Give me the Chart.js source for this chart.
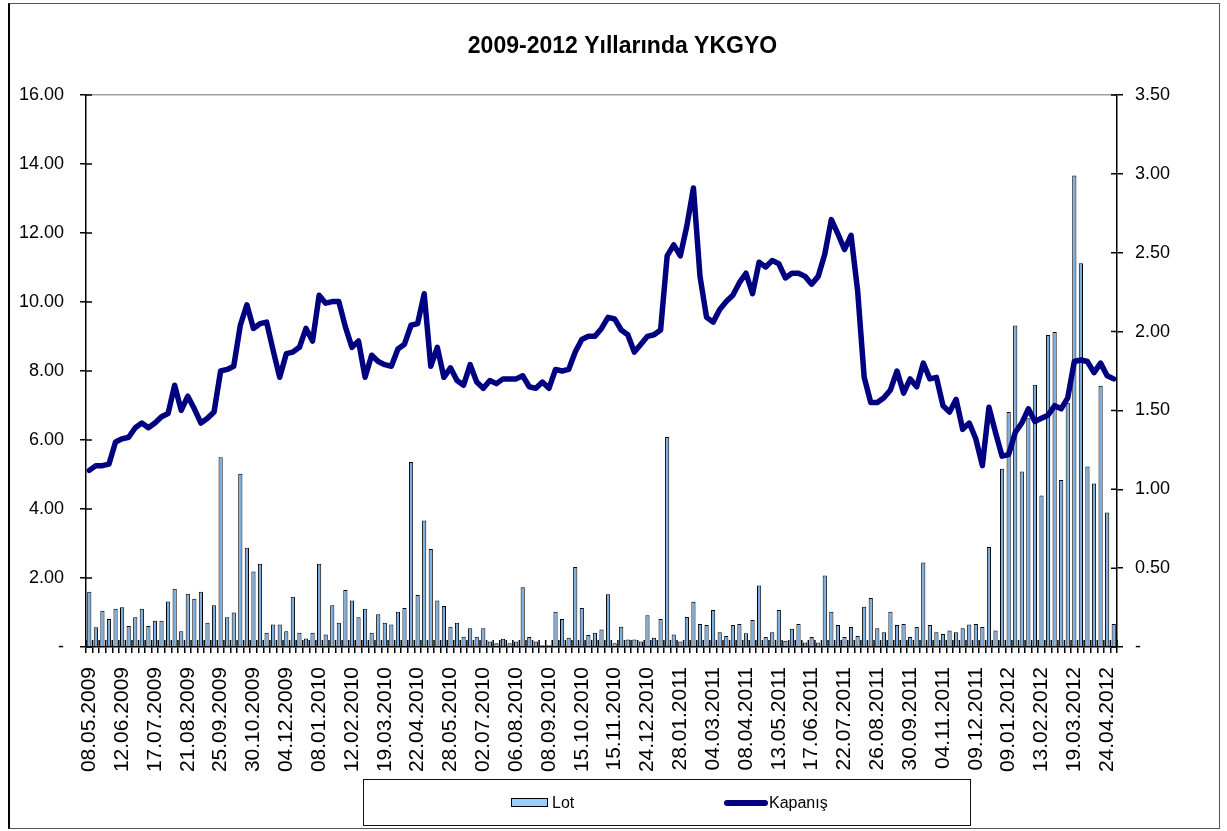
<!DOCTYPE html>
<html>
<head>
<meta charset="utf-8">
<title>2009-2012 Yıllarında YKGYO</title>
<script src="https://cdn.jsdelivr.net/npm/chart.js"></script>
<style>
  body { margin: 0; background: #fff; }
  #wrap { position: relative; width: 1227px; height: 831px; background: #fff; }
  #frame { position: absolute; left: 8px; top: 3px; width: 1209px; height: 824px;
           border: 1px solid #555; border-left: 2px solid #000; pointer-events: none; }
  #legend { position: absolute; left: 363px; top: 779px; width: 606px; height: 45px;
            border: 1.5px solid #111; font: 16px "Liberation Sans", Arial, sans-serif; color: #000; }
  #legend span { position: absolute; line-height: 18px; }
  .sw-lot { position: absolute; left: 147px; top: 18px; width: 35px; height: 7px;
            background: #99ccff; border: 1.5px solid #000; }
  .sw-line { position: absolute; left: 360px; top: 20px; width: 44px; height: 6px;
             background: #000080; border-radius: 3px; }
</style>
</head>
<body>
<div id="wrap">
  <canvas id="chart" width="1227" height="831"></canvas>
  <div id="frame"></div>
  <div id="legend">
    <div class="sw-lot"></div><span style="left:188px;top:14px">Lot</span>
    <div class="sw-line"></div><span style="left:405px;top:14px">Kapanış</span>
  </div>
</div>
<script>
// every 5th week gets a date label on the axis
const tickLabels = ['08.05.2009', '12.06.2009', '17.07.2009', '21.08.2009', '25.09.2009', '30.10.2009',
  '04.12.2009', '08.01.2010', '12.02.2010', '19.03.2010', '22.04.2010', '28.05.2010', '02.07.2010',
  '06.08.2010', '08.09.2010', '15.10.2010', '15.11.2010', '24.12.2010', '28.01.2011', '04.03.2011',
  '08.04.2011', '13.05.2011', '17.06.2011', '22.07.2011', '26.08.2011', '30.09.2011', '04.11.2011',
  '09.12.2011', '09.01.2012', '13.02.2012', '19.03.2012', '24.04.2012'];

// weekly volume (left axis)
const lot = [
  1.60, 0.57, 1.05, 0.81, 1.11, 1.15, 0.61, 0.86, 1.11, 0.61,
  0.76, 0.76, 1.32, 1.69, 0.46, 1.54, 1.40, 1.60, 0.70, 1.21,
  5.50, 0.86, 1.00, 5.02, 2.88, 2.19, 2.41, 0.41, 0.65, 0.65,
  0.46, 1.46, 0.41, 0.25, 0.41, 2.41, 0.36, 1.21, 0.70, 1.65,
  1.35, 0.86, 1.11, 0.41, 0.95, 0.70, 0.65, 1.02, 1.13, 5.36,
  1.51, 3.67, 2.84, 1.35, 1.19, 0.59, 0.70, 0.30, 0.54, 0.30,
  0.54, 0.16, 0.11, 0.24, 0.11, 0.16, 1.73, 0.29, 0.16, 0.05,
  0.05, 1.02, 0.81, 0.27, 2.32, 1.13, 0.35, 0.41, 0.51, 1.53,
  0.11, 0.59, 0.22, 0.22, 0.16, 0.92, 0.27, 0.81, 6.09, 0.36,
  0.16, 0.87, 1.31, 0.67, 0.64, 1.07, 0.43, 0.32, 0.64, 0.67,
  0.40, 0.78, 1.78, 0.29, 0.43, 1.07, 0.18, 0.53, 0.67, 0.13,
  0.29, 0.13, 2.07, 1.02, 0.64, 0.29, 0.58, 0.32, 1.17, 1.42,
  0.54, 0.43, 1.02, 0.64, 0.67, 0.29, 0.58, 2.45, 0.64, 0.43,
  0.38, 0.48, 0.43, 0.54, 0.65, 0.67, 0.58, 2.90, 0.48, 5.17,
  6.81, 9.32, 5.09, 6.63, 7.60, 4.39, 9.04, 9.13, 4.84, 7.08,
  13.67, 11.12, 5.23, 4.74, 7.57, 3.90, 0.67
];

// weekly closing price (right axis)
const kapanis = [
  1.12, 1.15, 1.15, 1.16, 1.30, 1.32, 1.33, 1.39, 1.42, 1.39,
  1.42, 1.46, 1.48, 1.66, 1.50, 1.59, 1.51, 1.42, 1.45, 1.49,
  1.75, 1.76, 1.78, 2.04, 2.17, 2.02, 2.05, 2.06, 1.88, 1.71,
  1.86, 1.87, 1.90, 2.02, 1.94, 2.23, 2.18, 2.19, 2.19, 2.03,
  1.90, 1.94, 1.71, 1.85, 1.81, 1.79, 1.78, 1.89, 1.92, 2.04,
  2.05, 2.24, 1.78, 1.90, 1.71, 1.77, 1.69, 1.66, 1.79, 1.68,
  1.64, 1.69, 1.67, 1.70, 1.70, 1.70, 1.72, 1.65, 1.64, 1.68,
  1.64, 1.76, 1.75, 1.76, 1.87, 1.95, 1.97, 1.97, 2.02, 2.09,
  2.08, 2.01, 1.98, 1.87, 1.92, 1.97, 1.98, 2.01, 2.48, 2.55,
  2.48, 2.67, 2.91, 2.35, 2.09, 2.06, 2.14, 2.19, 2.23, 2.31,
  2.37, 2.24, 2.44, 2.41, 2.45, 2.43, 2.34, 2.37, 2.37, 2.35,
  2.30, 2.35, 2.49, 2.71, 2.62, 2.52, 2.61, 2.26, 1.71, 1.55,
  1.55, 1.58, 1.63, 1.75, 1.61, 1.70, 1.65, 1.80, 1.70, 1.71,
  1.53, 1.49, 1.57, 1.38, 1.42, 1.32, 1.15, 1.52, 1.36, 1.21,
  1.22, 1.36, 1.42, 1.51, 1.43, 1.45, 1.47, 1.53, 1.51, 1.58,
  1.81, 1.82, 1.81, 1.74, 1.80, 1.72, 1.70
];

const categories = lot.map((v, i) => (i % 5 === 0 ? tickLabels[i / 5] : ''));

Chart.defaults.font.family = '"Liberation Sans", Arial, sans-serif';
Chart.defaults.color = '#000';

// excel style ticks that also reach into the plot
const crossTicks = {
  id: 'crossTicks',
  afterDatasetsDraw(chart) {
    const { ctx, chartArea: a, scales } = chart;
    ctx.save();
    ctx.strokeStyle = '#000';
    ctx.lineWidth = 1.5;
    ctx.beginPath();
    for (let i = 0; i <= categories.length; i++) {
      const px = scales.x.getPixelForValue(i - 0.5);
      ctx.moveTo(px, a.bottom);
      ctx.lineTo(px, a.bottom - 7);
    }
    scales.y.ticks.forEach((t, i) => {
      const py = scales.y.getPixelForTick(i);
      ctx.moveTo(a.left, py);
      ctx.lineTo(a.left + 6, py);
    });
    scales.y1.ticks.forEach((t, i) => {
      const py = scales.y1.getPixelForTick(i);
      ctx.moveTo(a.right, py);
      ctx.lineTo(a.right - 6, py);
    });
    ctx.stroke();
    ctx.restore();
  }
};

const fmt = v => (v === 0 ? '-' : v.toFixed(2));

new Chart(document.getElementById('chart'), {
  type: 'bar',
  data: {
    labels: categories,
    datasets: [
      {
        type: 'line',
        label: 'Kapanış',
        data: kapanis,
        yAxisID: 'y1',
        borderColor: '#000080',
        borderWidth: 5.5,
        pointRadius: 0,
        tension: 0,
        borderJoinStyle: 'round',
        borderCapStyle: 'round',
        order: 1
      },
      {
        label: 'Lot',
        data: lot,
        yAxisID: 'y',
        backgroundColor: '#7aaee0',
        borderColor: '#000',
        borderWidth: 1,
        barPercentage: 0.64,
        categoryPercentage: 1,
        order: 2
      }
    ]
  },
  options: {
    responsive: false,
    animation: false,
    layout: { padding: { left: 18, right: 0, top: 0, bottom: 0 } },
    plugins: {
      legend: { display: false },
      tooltip: { enabled: false },
      title: {
        display: true,
        text: '2009-2012 Yıllarında YKGYO',
        color: '#000',
        font: { size: 23, weight: 'bold' },
        padding: { top: 32.7, bottom: 34.7 }
      }
    },
    scales: {
      x: {
        offset: true,
        grid: { offset: true, drawOnChartArea: false, tickLength: 6, tickColor: '#000', lineWidth: 1.5 },
        border: { color: '#000', width: 1.5 },
        ticks: { autoSkip: false, minRotation: 90, maxRotation: 90, padding: 14, font: { size: 21 } },
        afterFit: s => { s.height = 184; }
      },
      y: {
        position: 'left',
        min: 0,
        max: 16,
        ticks: { stepSize: 2, padding: 16, font: { size: 18 }, callback: fmt },
        grid: {
          color: c => (c.tick && c.tick.value === 16 ? '#a0a0a0' : 'rgba(0,0,0,0)'),
          tickColor: '#000',
          tickLength: 6,
          lineWidth: 1.5
        },
        border: { color: '#000', width: 1.5 },
        afterFit: s => { s.width = 68; }
      },
      y1: {
        position: 'right',
        min: 0,
        max: 3.5,
        ticks: { stepSize: 0.5, padding: 12, font: { size: 18 }, callback: fmt },
        grid: { drawOnChartArea: false, tickColor: '#000', tickLength: 6, lineWidth: 1.5 },
        border: { color: '#000', width: 1.5 },
        afterFit: s => { s.width = 110; }
      }
    }
  },
  plugins: [crossTicks]
});
</script>
</body>
</html>
